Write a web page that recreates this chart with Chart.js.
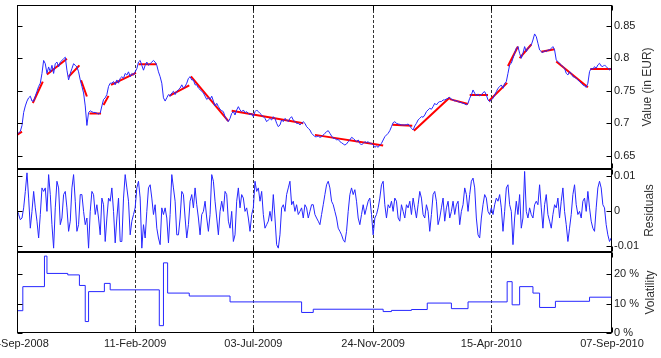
<!DOCTYPE html>
<html>
<head>
<meta charset="utf-8">
<script src="https://cdn.jsdelivr.net/npm/chart.js@4.4.0/dist/chart.umd.min.js"></script>
<style>
  html, body { margin: 0; padding: 0; background: #fff; }
  canvas { display: block; }
</style>
</head>
<body>
<canvas id="chart" width="661" height="358"></canvas>
<script>
// x axis is calendar days counted from 22-Sep-2008
const tickDays = [0, 142, 284, 428, 570, 715];
const tickLabels = ['22-Sep-2008', '11-Feb-2009', '03-Jul-2009', '24-Nov-2009', '15-Apr-2010', '07-Sep-2010'];
const sampleStep = 2; // days between two samples of the series below

const valueTicks = [0.65, 0.7, 0.75, 0.8, 0.85];
const residualTicks = [-0.01, 0, 0.01];
const volTicks = [0, 10, 20];

// Value (in EUR), one sample every 2 days
const values = [
  0.6840, 0.6850, 0.6875, 0.6965, 0.7165, 0.7265, 0.7340, 0.7390, 0.7415, 0.7340,
  0.7340, 0.7415, 0.7490, 0.7565, 0.7615, 0.7765, 0.7965, 0.7915, 0.7765, 0.7865,
  0.7790, 0.7890, 0.7765, 0.7915, 0.7940, 0.7865, 0.7940, 0.7965, 0.7990, 0.8015,
  0.7815, 0.7665, 0.7765, 0.7840, 0.7915, 0.7890, 0.7865, 0.7790, 0.7665, 0.7565,
  0.7465, 0.7265, 0.6965, 0.7165, 0.7190, 0.7175, 0.7165, 0.7165, 0.7155, 0.7140,
  0.7155, 0.7265, 0.7365, 0.7390, 0.7440, 0.7565, 0.7615, 0.7615, 0.7640, 0.7590,
  0.7665, 0.7615, 0.7690, 0.7715, 0.7690, 0.7765, 0.7740, 0.7790, 0.7715, 0.7765,
  0.7740, 0.7790, 0.7840, 0.7940, 0.7965, 0.7890, 0.7815, 0.7890, 0.7940, 0.7890,
  0.7915, 0.7940, 0.7965, 0.7940, 0.7890, 0.7790, 0.7715, 0.7615, 0.7390, 0.7340,
  0.7390, 0.7440, 0.7415, 0.7465, 0.7490, 0.7440, 0.7490, 0.7515, 0.7540, 0.7590,
  0.7540, 0.7565, 0.7615, 0.7690, 0.7715, 0.7665, 0.7665, 0.7590, 0.7590, 0.7540,
  0.7515, 0.7490, 0.7465, 0.7415, 0.7365, 0.7390, 0.7365, 0.7415, 0.7340, 0.7265,
  0.7305, 0.7254, 0.7213, 0.7193, 0.7177, 0.7100, 0.7049, 0.7023, 0.7074, 0.7151,
  0.7177, 0.7126, 0.7203, 0.7254, 0.7203, 0.7177, 0.7203, 0.7162, 0.7177, 0.7151,
  0.7126, 0.7151, 0.7100, 0.7177, 0.7203, 0.7177, 0.7151, 0.7126, 0.7100, 0.7074,
  0.7023, 0.7049, 0.7074, 0.7049, 0.7100, 0.7074, 0.6998, 0.6946, 0.6972, 0.7049,
  0.7023, 0.7074, 0.7049, 0.7023, 0.7074, 0.7100, 0.7049, 0.7023, 0.6998, 0.6998,
  0.6972, 0.6998, 0.7023, 0.6998, 0.6946, 0.6921, 0.6895, 0.6844, 0.6818, 0.6792,
  0.6792, 0.6803, 0.6782, 0.6792, 0.6818, 0.6844, 0.6869, 0.6885, 0.6844, 0.6803,
  0.6767, 0.6767, 0.6741, 0.6751, 0.6716, 0.6700, 0.6680, 0.6664, 0.6680, 0.6716,
  0.6741, 0.6782, 0.6767, 0.6741, 0.6716, 0.6741, 0.6690, 0.6664, 0.6690, 0.6716,
  0.6700, 0.6716, 0.6690, 0.6690, 0.6664, 0.6628, 0.6649, 0.6628, 0.6664, 0.6690,
  0.6741, 0.6792, 0.6818, 0.6844, 0.6885, 0.6946, 0.7008, 0.7023, 0.6998, 0.6987,
  0.6982, 0.6972, 0.6972, 0.6972, 0.6977, 0.6987, 0.6957, 0.6921, 0.6895,
  0.6957, 0.6998, 0.7050, 0.7075, 0.7101, 0.7091, 0.7126, 0.7178, 0.7203, 0.7229,
  0.7214, 0.7255, 0.7306, 0.7280, 0.7316, 0.7332, 0.7332, 0.7357, 0.7357, 0.7373,
  0.7383, 0.7398, 0.7368, 0.7357, 0.7342, 0.7347, 0.7332, 0.7321, 0.7316, 0.7306,
  0.7296, 0.7280, 0.7306, 0.7383, 0.7434, 0.7511, 0.7460, 0.7419, 0.7450, 0.7419,
  0.7434, 0.7470, 0.7485, 0.7434, 0.7357, 0.7332, 0.7357, 0.7383, 0.7434, 0.7485,
  0.7537, 0.7562, 0.7588, 0.7537, 0.7614, 0.7639, 0.7767, 0.7896, 0.7921, 0.7998,
  0.8075, 0.8152, 0.8178, 0.8075, 0.7998, 0.8075, 0.8178, 0.8101, 0.8152, 0.8178,
  0.8203, 0.8280, 0.8373, 0.8332, 0.8229, 0.8126, 0.8101, 0.8085, 0.8116, 0.8101,
  0.8126, 0.8126, 0.8152, 0.8178, 0.8126, 0.7973, 0.7947, 0.7921, 0.7896, 0.7870,
  0.7844, 0.7767, 0.7742, 0.7793, 0.7767, 0.7716, 0.7706, 0.7691, 0.7665, 0.7639,
  0.7614, 0.7588, 0.7573, 0.7552, 0.7614, 0.7793, 0.7844, 0.7829, 0.7870, 0.7844,
  0.7896, 0.7921, 0.7880, 0.7870, 0.7896, 0.7870, 0.7844, 0.7819, 0.7844
];

// fitted trends: [startDay, startValue, endDay, endValue]
const trendSegments = [
  [0, 0.682, 6, 0.687],
  [19, 0.731, 31, 0.764],
  [36, 0.775, 60, 0.799],
  [62, 0.7715, 75, 0.789],
  [77, 0.766, 84, 0.741],
  [87, 0.715, 101, 0.715],
  [104, 0.728, 110, 0.742],
  [113, 0.759, 143, 0.7775],
  [146, 0.7905, 168, 0.7905],
  [183, 0.742, 207, 0.758],
  [209, 0.772, 254, 0.703],
  [258, 0.719, 344, 0.700],
  [358, 0.682, 440, 0.6655],
  [451, 0.6975, 475, 0.696],
  [477, 0.6885, 520, 0.7395],
  [520, 0.737, 542, 0.7296],
  [544, 0.7434, 566, 0.7434],
  [567, 0.734, 589, 0.762],
  [590, 0.788, 602, 0.818],
  [604, 0.800, 618, 0.821],
  [630, 0.810, 646, 0.8137],
  [648, 0.795, 686, 0.7552],
  [689, 0.7834, 714, 0.7834]
];

// residuals, same 2-day sampling as values
const residuals = [
  0.0003, -0.0011, -0.0026, -0.0021, 0.0008, 0.0055, 0.0108, 0.0036, -0.0050, -0.0002,
  0.0055, 0.0008, -0.0030, -0.0078, -0.0011, 0.0065, 0.0055, 0.0065, -0.0002, 0.0103,
  0.0046, -0.0040, -0.0107, 0.0008, 0.0084, 0.0065, -0.0040, -0.0021, 0.0046, 0.0055,
  0.0008, -0.0059, -0.0030, 0.0065, 0.0103, 0.0027, -0.0059, -0.0040, 0.0046, 0.0046,
  -0.0002, -0.0040, -0.0021, -0.0107, -0.0002, 0.0055, 0.0046, -0.0011, 0.0017, -0.0021,
  -0.0069, 0.0036, 0.0017, -0.0088, -0.0021, 0.0036, 0.0027, 0.0065, -0.0002, -0.0092,
  -0.0021, 0.0036, -0.0088, -0.0088, 0.0036, 0.0103, 0.0065, 0.0027, -0.0069, -0.0030,
  -0.0011, 0.0008, 0.0065, 0.0084, 0.0036, -0.0107, -0.0040, -0.0078, -0.0002, 0.0065,
  0.0074, 0.0036, -0.0011, 0.0017, -0.0050, -0.0078, -0.0097, 0.0008, -0.0011, 0.0008,
  -0.0021, -0.0092, -0.0011, 0.0103, 0.0065, 0.0027, -0.0069, -0.0069, -0.0021, 0.0055,
  0.0046, -0.0021, -0.0078, -0.0040, 0.0027, 0.0046, 0.0008, 0.0065, 0.0017, -0.0021,
  -0.0069, -0.0011, -0.0002, 0.0027, -0.0021, -0.0059, -0.0011, 0.0103, 0.0084, 0.0027,
  -0.0021, -0.0069, -0.0002, 0.0027, -0.0002, 0.0055, 0.0046, -0.0030, -0.0050, -0.0002,
  -0.0088, -0.0069, 0.0027, 0.0065, 0.0008, 0.0046, 0.0036, -0.0002, 0.0008, -0.0021,
  -0.0059, -0.0011, 0.0008, 0.0084, 0.0055, 0.0065, 0.0027, 0.0055, -0.0011, -0.0050,
  -0.0040, -0.0030, -0.0002, -0.0030, 0.0046, -0.0021, -0.0097, -0.0107, -0.0069, 0.0008,
  0.0017, -0.0002, 0.0046, 0.0065, 0.0084, 0.0017, 0.0027, -0.0002, 0.0017, -0.0011,
  -0.0002, 0.0008, -0.0021, 0.0017, 0.0008, -0.0021, -0.0002, 0.0017, 0.0017,
  -0.0011, -0.0021, -0.0030, -0.0040, -0.0011, 0.0017, 0.0046, 0.0074, 0.0084, 0.0065,
  0.0027, 0.0017, -0.0002, -0.0021, -0.0050, -0.0059, -0.0069, -0.0083, -0.0090, -0.0059,
  -0.0002, 0.0046, 0.0065, 0.0046, 0.0060, 0.0027, -0.0021, -0.0040, -0.0011, 0.0017,
  -0.0011, 0.0008, 0.0027, 0.0036, -0.0011, -0.0069, -0.0021, -0.0011, 0.0008, 0.0036,
  0.0074, 0.0084, 0.0017, -0.0021, 0.0017, 0.0008, 0.0027, -0.0002, 0.0036, 0.0027,
  -0.0021, -0.0030, 0.0017, -0.0002, -0.0021, 0.0017, 0.0008, 0.0027, -0.0011, 0.0036,
  0.0008, -0.0021, 0.0017, 0.0055, 0.0036, -0.0011, -0.0021, 0.0017, -0.0002, -0.0059,
  -0.0011, 0.0046, 0.0055, 0.0027, -0.0040, -0.0021, 0.0008, 0.0036, -0.0030, 0.0008,
  0.0027, -0.0021, -0.0002, 0.0027, -0.0011, 0.0017, 0.0027, -0.0040, -0.0002, 0.0017,
  0.0065, 0.0046, -0.0002, 0.0046, 0.0084, 0.0093, 0.0065, -0.0021, -0.0069, -0.0078,
  -0.0021, 0.0017, 0.0046, 0.0036, -0.0002, -0.0011, 0.0008, -0.0011, 0.0017, 0.0036,
  0.0027, 0.0046, 0.0008, -0.0059, -0.0002, 0.0065, 0.0074, 0.0017, -0.0002, -0.0097,
  -0.0021, 0.0027, -0.0011, 0.0046, -0.0050, -0.0021, 0.0112, -0.0002, -0.0021, 0.0008,
  -0.0011, -0.0021, 0.0017, 0.0027, 0.0017, 0.0074, 0.0008, -0.0050, 0.0017, 0.0046,
  -0.0011, -0.0030, -0.0050, -0.0011, 0.0017, 0.0008, 0.0036, -0.0021, 0.0027, 0.0065,
  -0.0002, -0.0040, -0.0088, -0.0050, -0.0011, 0.0046, 0.0074, 0.0017, -0.0011, -0.0002,
  -0.0021, 0.0027, 0.0036, -0.0002, 0.0055, 0.0008, -0.0030, -0.0050, -0.0059, 0.0008,
  0.0065, 0.0084, 0.0065, 0.0017, 0.0008, -0.0040, -0.0069, -0.0088, -0.0078
];

// volatility (%) steps: value holds from its day until the next one
const volDays = [0, 7, 33, 36, 61, 75, 82, 86, 105, 112, 171, 176, 181, 207, 256, 342, 356, 440, 450, 474, 493, 522, 542, 589, 595, 604, 620, 628, 647, 688, 714];
const volPct = [7.6, 15.8, 26.2, 20.3, 19.8, 16.2, 3.9, 14.1, 16.9, 14.7, 2.5, 23.9, 13.6, 12.6, 10.6, 7.0, 8.1, 7.3, 7.7, 8.0, 10.2, 8.3, 10.6, 17.5, 9.6, 15.8, 13.6, 8.7, 10.8, 12.2, 12.2];

const axisTitles = ['Value (in EUR)', 'Residuals', 'Volatility'];

const FONT = '"Liberation Sans", Arial, Helvetica, sans-serif';
const BLUE = '#2626ff';
const RED = '#ff0000';

const toPoints = arr => arr.map((v, i) => ({x: i * sampleStep, y: v}));

const trendData = [];
trendSegments.forEach(s => {
    trendData.push({x: s[0], y: s[1]}, {x: s[2], y: s[3]}, {x: s[2], y: null});
});

const volData = volDays.map((d, i) => ({x: d, y: volPct[i]}));

function fixedTicks(list) {
    return scale => { scale.ticks = list.map(v => ({value: v})); };
}

function rightAxis(min, max, weight, ticks, fmt) {
    return {
        type: 'linear',
        position: 'right',
        stack: 'panels',
        stackWeight: weight,
        min: min,
        max: max,
        grid: {display: false, drawTicks: false},
        border: {display: false},
        afterBuildTicks: fixedTicks(ticks),
        afterFit: s => { s.width = 49; s.paddingTop = 0; s.paddingBottom = 0; },
        ticks: {padding: 2, color: '#222', font: {family: FONT, size: 11}, callback: fmt}
    };
}

// frames, inward ticks, dashed date lines and right-hand titles
const panelFrame = {
    id: 'panelFrame',
    beforeDatasetsDraw(chart) {
        const {ctx, chartArea, scales} = chart;
        ctx.save();
        ctx.strokeStyle = '#333';
        ctx.lineWidth = 1;
        ctx.setLineDash([3, 2]);
        tickDays.slice(1, -1).forEach(d => {
            const x = Math.round(scales.x.getPixelForValue(d)) + 0.5;
            ctx.beginPath();
            ctx.moveTo(x, chartArea.top);
            ctx.lineTo(x, chartArea.bottom);
            ctx.stroke();
        });
        ctx.restore();
    },
    afterDatasetsDraw(chart) {
        const {ctx, chartArea, scales} = chart;
        const left = chartArea.left + 0.5;
        const right = chartArea.right - 0.5;
        const line = (x1, y1, x2, y2) => {
            ctx.beginPath();
            ctx.moveTo(x1, y1);
            ctx.lineTo(x2, y2);
            ctx.stroke();
        };
        ctx.save();
        ctx.strokeStyle = '#000';
        ctx.lineWidth = 1;
        ['yTop', 'yRes', 'yVol'].forEach(id => {
            const s = scales[id];
            const top = Math.round(s.top) + 0.5;
            const bottom = Math.round(s.bottom) - 0.5;
            ctx.strokeRect(left, top, right - left, bottom - top);
            s.ticks.forEach(t => {
                const y = Math.round(s.getPixelForValue(t.value)) + 0.5;
                line(left, y, left + 5, y);
                line(right - 5, y, right, y);
            });
            tickDays.forEach(d => {
                const x = Math.round(scales.x.getPixelForValue(d)) + 0.5;
                line(x, top, x, top + 5);
                line(x, bottom - 5, x, bottom);
            });
        });
        ctx.lineWidth = 2;
        const sep = Math.round(scales.yTop.bottom);
        line(chartArea.left, sep, chartArea.right, sep);
        ctx.restore();
    },
    afterDraw(chart) {
        const {ctx, scales} = chart;
        const xs = [648, 650, 651];
        ctx.save();
        ctx.fillStyle = '#333';
        ctx.font = '12px ' + FONT;
        ctx.textAlign = 'center';
        ctx.textBaseline = 'middle';
        ['yTop', 'yRes', 'yVol'].forEach((id, i) => {
            const s = scales[id];
            ctx.save();
            ctx.translate(xs[i], (s.top + s.bottom) / 2);
            ctx.rotate(-Math.PI / 2);
            ctx.fillText(axisTitles[i], 0, 0);
            ctx.restore();
        });
        ctx.restore();
    }
};

const ctx = document.getElementById('chart').getContext('2d');

const chart = new Chart(ctx, {
    type: 'line',
    data: {
        datasets: [{
            label: 'Value',
            data: toPoints(values),
            yAxisID: 'yTop',
            borderColor: BLUE,
            borderWidth: 1
        }, {
            label: 'Trend',
            data: trendData,
            yAxisID: 'yTop',
            borderColor: RED,
            borderWidth: 2,
            spanGaps: false
        }, {
            label: 'Residuals',
            data: toPoints(residuals),
            yAxisID: 'yRes',
            borderColor: BLUE,
            borderWidth: 1
        }, {
            label: 'Volatility',
            data: volData,
            yAxisID: 'yVol',
            borderColor: BLUE,
            borderWidth: 1,
            stepped: 'before'
        }]
    },
    options: {
        responsive: false,
        animation: false,
        devicePixelRatio: 1,
        layout: {padding: {left: 17, top: 5, right: 0, bottom: 0}},
        elements: {point: {radius: 0}, line: {tension: 0, fill: false}},
        plugins: {legend: {display: false}, tooltip: {enabled: false}},
        scales: {
            x: {
                type: 'linear',
                min: 0,
                max: 715,
                grid: {display: false, drawTicks: false},
                border: {display: false},
                afterBuildTicks: fixedTicks(tickDays),
                afterFit: s => { s.height = 25; s.paddingLeft = 0; s.paddingRight = 0; },
                ticks: {
                    padding: 4,
                    maxRotation: 0,
                    autoSkip: false,
                    color: '#222',
                    font: {family: FONT, size: 11},
                    callback: v => tickLabels[tickDays.indexOf(v)]
                }
            },
            yTop: rightAxis(0.6295, 0.8818, 164, valueTicks, v => String(v)),
            yRes: rightAxis(-0.0118, 0.0119, 83, residualTicks, v => String(v)),
            yVol: rightAxis(0, 27.6, 81, volTicks, v => v + ' %')
        }
    },
    plugins: [panelFrame]
});
</script>
</body>
</html>
